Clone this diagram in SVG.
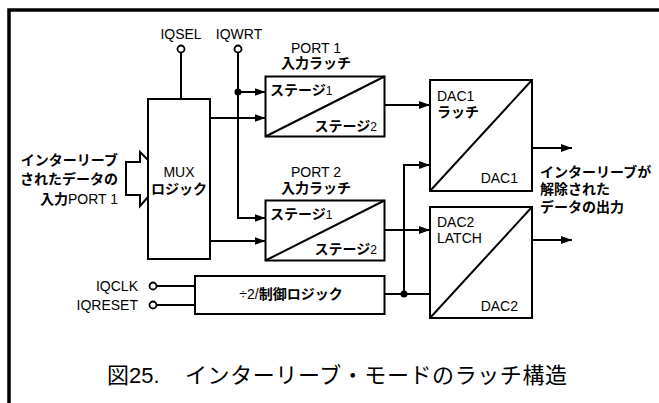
<svg xmlns="http://www.w3.org/2000/svg" width="659" height="403" viewBox="0 0 659 403">
<defs>
<marker id="ah" viewBox="0 0 11 8" refX="11" refY="4" markerWidth="11" markerHeight="8" markerUnits="userSpaceOnUse" orient="auto">
<path d="M0,0 L11,4 L0,8 Z" fill="#000"/>
</marker>
<style>
text{font-family:"Liberation Sans","Noto Sans CJK JP",Arial,sans-serif;font-size:14px;fill:#000}
.b{font-weight:bold}
.n{font-weight:normal}
.s{font-size:12px;font-weight:normal}
.box{fill:#fff;stroke:#000;stroke-width:2}
.ln{fill:none;stroke:#000;stroke-width:2}
.ar{fill:none;stroke:#000;stroke-width:2;marker-end:url(#ah)}
.pin{fill:#fff;stroke:#000;stroke-width:1.8}
.cap{font-size:22px}
</style>
</defs>
<rect width="659" height="403" fill="#fff"/>
<path d="M9,403 V10 H659" fill="none" stroke="#000" stroke-width="3.5"/>

<g id="connectors">
<line class="ln" x1="181" y1="52.5" x2="181" y2="99"/>
<polyline class="ar" points="238,52.5 238,218 265.5,218"/>
<line class="ar" x1="238" y1="92" x2="265.5" y2="92"/>
<circle cx="238" cy="92" r="3.5" fill="#000"/>
<line class="ar" x1="210" y1="118" x2="265.5" y2="118"/>
<line class="ar" x1="210" y1="241" x2="265.5" y2="241"/>
<line class="ar" x1="384.5" y1="105" x2="430" y2="105"/>
<line class="ar" x1="384.5" y1="230" x2="430" y2="230"/>
<line class="ln" x1="384.5" y1="294" x2="430" y2="294"/>
<polyline class="ar" points="404,294 404,165 430,165"/>
<circle cx="404" cy="294" r="3.5" fill="#000"/>
<line class="ar" x1="532" y1="148" x2="572" y2="148"/>
<line class="ar" x1="532" y1="240" x2="572" y2="240"/>
<line class="ln" x1="156.5" y1="286" x2="195" y2="286"/>
<line class="ln" x1="156.5" y1="305" x2="195" y2="305"/>
<polyline fill="#fff" stroke="#000" stroke-width="2" points="148,160 140,152 140,162 126,162 126,195 140,195 140,206 148,197"/>
</g>

<g id="iqsel">
<circle class="pin" cx="181" cy="49" r="3.5"/>
<text x="181" y="39" text-anchor="middle">IQSEL</text>
</g>
<g id="iqwrt">
<circle class="pin" cx="238" cy="49" r="3.5"/>
<text x="239" y="39" text-anchor="middle">IQWRT</text>
</g>
<g id="iqclk">
<circle class="pin" cx="153" cy="286" r="3.5"/>
<text x="138" y="291" text-anchor="end">IQCLK</text>
</g>
<g id="iqreset">
<circle class="pin" cx="153" cy="305" r="3.5"/>
<text x="138" y="310" text-anchor="end">IQRESET</text>
</g>

<g id="input">
<text x="118" y="165" text-anchor="end" class="b">インターリーブ</text>
<text x="118" y="184" text-anchor="end" class="b">されたデータの</text>
<text x="118" y="204" text-anchor="end"><tspan class="b">入力</tspan>PORT 1</text>
</g>

<g id="mux">
<rect class="box" x="148" y="99" width="62" height="160"/>
<text x="179" y="177" text-anchor="middle">MUX</text>
<text x="179" y="194" text-anchor="middle" class="b">ロジック</text>
</g>

<g id="port1">
<text x="316" y="53" text-anchor="middle">PORT 1</text>
<text x="316" y="68" text-anchor="middle" class="b">入力ラッチ</text>
<rect class="box" x="265.5" y="76.5" width="119" height="60"/>
<line class="ln" x1="265.5" y1="136.5" x2="384.5" y2="76.5"/>
<text x="270" y="95" class="b">ステージ<tspan class="s">1</tspan></text>
<text x="377" y="131" text-anchor="end" class="b">ステージ<tspan class="s">2</tspan></text>
</g>

<g id="port2">
<text x="316" y="177" text-anchor="middle">PORT 2</text>
<text x="316" y="193" text-anchor="middle" class="b">入力ラッチ</text>
<rect class="box" x="265.5" y="200.5" width="119" height="60"/>
<line class="ln" x1="265.5" y1="260.5" x2="384.5" y2="200.5"/>
<text x="270" y="219" class="b">ステージ<tspan class="s">1</tspan></text>
<text x="377" y="254" text-anchor="end" class="b">ステージ<tspan class="s">2</tspan></text>
</g>

<g id="dac1">
<rect class="box" x="430" y="80" width="102" height="111"/>
<line class="ln" x1="430" y1="191" x2="532" y2="80"/>
<text x="437" y="101">DAC1</text>
<text x="437" y="117" class="b">ラッチ</text>
<text x="518" y="183" text-anchor="end">DAC1</text>
</g>

<g id="dac2">
<rect class="box" x="430" y="207" width="102" height="111"/>
<line class="ln" x1="430" y1="318" x2="532" y2="207"/>
<text x="437" y="227">DAC2</text>
<text x="437" y="243">LATCH</text>
<text x="518" y="311" text-anchor="end">DAC2</text>
</g>

<g id="ctrl">
<rect class="box" x="195" y="276" width="189.5" height="38"/>
<text x="291" y="299" text-anchor="middle">÷2/<tspan class="b">制御ロジック</tspan></text>
</g>

<g id="output">
<text x="540" y="177" class="b">インターリーブが</text>
<text x="540" y="194" class="b">解除された</text>
<text x="540" y="212" class="b">データの出力</text>
</g>

<g id="caption">
<text x="107" y="383" class="cap">図25.</text>
<text x="185" y="383" class="cap" textLength="382" lengthAdjust="spacing">インターリーブ・モードのラッチ構造</text>
</g>
</svg>
